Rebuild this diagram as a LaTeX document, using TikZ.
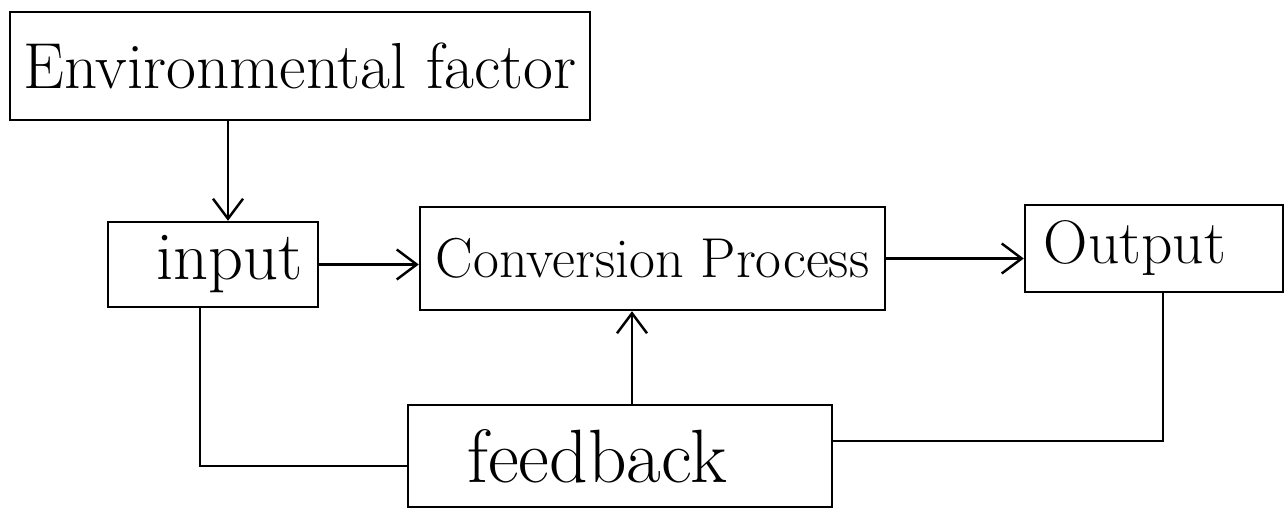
\documentclass[tikz,border=0pt]{standalone}
\usetikzlibrary{arrows.meta}
\begin{document}
\begin{tikzpicture}[
  box/.style={draw, line width=1.4pt, inner sep=0pt},
  fs/.style={font=\fontsize{#1}{#1}\selectfont},
  arr/.style={line width=1.4pt, -{Straight Barb[length=4mm,width=6mm,line width=1.4pt]}},
  wire/.style={line width=1.4pt}
]
\useasboundingbox (0,0) rectangle (25.72,10.22);
\node[box, fs=37, minimum width=11.6cm, minimum height=2.16cm] (env) at (6.0,8.9) {Environmental factor};
\node[box, fs=39, minimum width=4.2cm, minimum height=1.7cm] (input) at (4.26,4.93) {\hspace*{0.68cm}input};
\node[box, fs=32, minimum width=9.3cm, minimum height=2.06cm] (conv) at (13.05,5.05) {Conversion Process};
\node[box, fs=35, minimum width=5.16cm, minimum height=1.74cm] (out) at (23.08,5.25) {Output\hspace*{0.76cm}};
\node[box, fs=43, minimum width=8.48cm, minimum height=2.04cm] (fb) at (12.4,1.1) {feedback\hspace*{0.92cm}};
\draw[arr] ([xshift=0.3cm]input.north |- env.south) -- ([xshift=0.3cm]input.north);
\draw[arr] (input.east) -- (input.east -| conv.west);
\draw[arr] (conv.east) -- (conv.east -| out.west);
\draw[arr] ([xshift=0.24cm]fb.north) -- ([xshift=0.24cm]fb.north |- conv.south);
\draw[wire] ([xshift=-0.26cm]input.south) |- ([yshift=-0.2cm]fb.west);
\draw[wire] ([xshift=0.18cm]out.south) |- ([yshift=0.3cm]fb.east);
\end{tikzpicture}
\end{document}
